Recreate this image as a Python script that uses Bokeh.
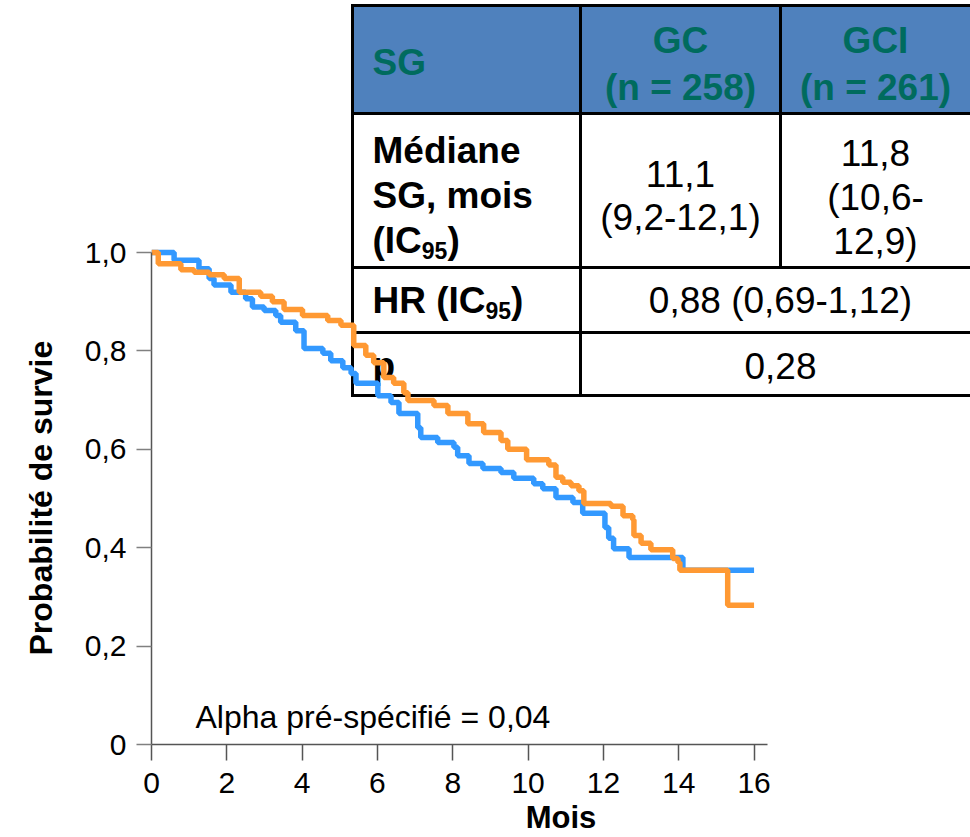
from bokeh.plotting import figure
from bokeh.models import Range1d, FixedTicker, Title
from bokeh.core.properties import value
from bokeh.embed import file_html
from bokeh.resources import INLINE

# ---------------- data ----------------
gc_times = [0, 0.60, 1.26, 1.53, 1.66, 2.11, 2.50, 2.68, 2.99, 3.30,
            3.43, 3.83, 4.05, 4.55, 4.76, 5.08, 5.30, 5.43, 6.01, 6.36,
            6.57, 7.07, 7.15, 7.60, 8.03, 8.13, 8.43, 8.80, 9.28, 9.62,
            10.15, 10.39, 10.74, 11.19, 11.45, 12.04, 12.14, 12.27, 12.68, 14.11,
            16.0]
gc_surv = [1.0, 0.984, 0.967, 0.947, 0.934, 0.919, 0.906, 0.889, 0.882, 0.872,
           0.858, 0.841, 0.805, 0.795, 0.780, 0.766, 0.754, 0.734, 0.709, 0.695,
           0.673, 0.644, 0.624, 0.614, 0.604, 0.587, 0.571, 0.561, 0.553, 0.541,
           0.530, 0.520, 0.502, 0.492, 0.470, 0.441, 0.419, 0.398, 0.380, 0.354,
           0.354]

gci_times = [0, 0.18, 0.78, 1.13, 1.53, 1.93, 2.33, 2.90, 3.21, 3.52,
             4.01, 4.68, 5.03, 5.37, 5.69, 5.90, 6.17, 6.43, 6.70, 6.81,
             7.50, 7.87, 8.40, 8.82, 9.28, 9.46, 9.96, 10.55, 10.74, 10.92,
             11.14, 11.35, 11.48, 12.20, 12.52, 12.78, 12.81, 13.00, 13.26, 13.84,
             13.98, 14.03, 15.30, 16.0]
gci_surv = [1.0, 0.977, 0.965, 0.960, 0.955, 0.947, 0.919, 0.911, 0.900, 0.884,
            0.872, 0.862, 0.852, 0.811, 0.791, 0.776, 0.746, 0.734, 0.715, 0.699,
            0.689, 0.673, 0.652, 0.634, 0.618, 0.600, 0.579, 0.568, 0.543, 0.533,
            0.526, 0.516, 0.490, 0.484, 0.465, 0.457, 0.425, 0.409, 0.396, 0.378,
            0.370, 0.354, 0.283, 0.283]

x_ticks = [0, 2, 4, 6, 8, 10, 12, 14, 16]
x_tick_labels = ["0", "2", "4", "6", "8", "10", "12", "14", "16"]
y_ticks = [0, 0.2, 0.4, 0.6, 0.8, 1.0]
y_tick_labels = ["0", "0,2", "0,4", "0,6", "0,8", "1,0"]

x_title = "Mois"
y_title = "Probabilité de survie"
note = "Alpha pré-spécifié = 0,04"

tbl_head = ["SG", "GC", "(n = 258)", "GCI", "(n = 261)"]
tbl_row1_label = ["Médiane", "SG, mois", "(IC", "95", ")"]
tbl_row1_gc = ["11,1", "(9,2-12,1)"]
tbl_row1_gci = ["11,8", "(10,6-", "12,9)"]
tbl_row2_label = ["HR (IC", "95", ")"]
tbl_row2_value = "0,88 (0,69-1,12)"
tbl_row3_label = "p"
tbl_row3_value = "0,28"

# ---------------- layout ----------------
W, H = 970, 837
FL, FB = 151, 744          # frame left / bottom in pixels
PX_X, PX_Y = 37.66, 492.0  # pixels per data unit
FONT = "Liberation Sans"
BLUE = "#3399FF"
ORANGE = "#FF9933"
TEAL = "#006B5E"
HEAD = "#4F81BD"

p = figure(width=W, height=H,
           x_range=Range1d(0, (W - FL) / PX_X),
           y_range=Range1d(0, FB / PX_Y),
           output_backend="svg", toolbar_location=None,
           min_border_left=FL, min_border_right=0,
           min_border_top=0, min_border_bottom=H - FB)
p.outline_line_color = None
p.xgrid.grid_line_color = None
p.ygrid.grid_line_color = None
p.background_fill_color = "white"
p.border_fill_color = "white"


def X(px):
    return (px - FL) / PX_X


def Y(py):
    return (FB - py) / PX_Y


# axes
xa = p.xaxis[0]
xa.ticker = FixedTicker(ticks=x_ticks)
xa.major_label_overrides = {t: l for t, l in zip(x_ticks, x_tick_labels)}
xa.bounds = (0, 16.37)
xa.axis_line_color = "#555555"
xa.axis_line_width = 1.5
xa.major_tick_line_color = "#555555"
xa.major_tick_line_width = 1.5
xa.major_tick_out = 16
xa.major_tick_in = 0
xa.minor_tick_line_color = None
xa.major_label_text_font = FONT
xa.major_label_text_font_size = "30px"
xa.major_label_text_color = "black"
xa.major_label_standoff = 12
xa.axis_label = x_title
xa.axis_label_text_font = FONT
xa.axis_label_text_font_size = "31px"
xa.axis_label_text_font_style = "bold"
xa.axis_label_text_color = "black"
xa.axis_label_standoff = 4

ya = p.yaxis[0]
ya.ticker = FixedTicker(ticks=y_ticks)
ya.major_label_overrides = {t: l for t, l in zip(y_ticks, y_tick_labels)}
ya.bounds = (0, 1.0)
ya.axis_line_color = "#555555"
ya.axis_line_width = 1.5
ya.major_tick_line_color = "#808080"
ya.major_tick_line_width = 1.5
ya.major_tick_out = 15
ya.major_tick_in = 0
ya.minor_tick_line_color = None
ya.major_label_text_font = FONT
ya.major_label_text_font_size = "30px"
ya.major_label_text_color = "black"
ya.major_label_standoff = 10

# y-axis title, placed along the 0..1 span of the axis
ytitle = Title(text=y_title, align="left", offset=89, vertical_align="top",
               text_font=FONT, text_font_size="32px", text_font_style="bold",
               text_color="black")
if "standoff" in Title.properties():
    ytitle.standoff = 41
p.add_layout(ytitle, "left")


def put(px, py, s, size=37, bold=False, color="black", align="left"):
    p.text(x=[X(px)], y=[Y(py)], text=[s],
           text_font=value(FONT), text_font_size=value(f"{size}px"),
           text_font_style="bold" if bold else "normal",
           text_color=color, text_align=align, text_baseline="middle")


# ---------------- table ----------------
TL, TR, TT = 352, 978, 5
r1, r2, r3, TB = 113, 267, 332, 395
C1, C2 = 580, 780
p.quad(left=[X(TL)], right=[X(TR)], top=[Y(TT)], bottom=[Y(r1)],
       fill_color=HEAD, line_color=None)
p.quad(left=[X(TL)], right=[X(TR)], top=[Y(r1)], bottom=[Y(TB)],
       fill_color="white", line_color=None)
hy = [TT, r1, r2, r3, TB]
p.segment(x0=[X(TL)] * 5, x1=[X(TR)] * 5, y0=[Y(v) for v in hy], y1=[Y(v) for v in hy],
          line_color="black", line_width=3)
p.segment(x0=[X(TL), X(C1), X(C2)], x1=[X(TL), X(C1), X(C2)],
          y0=[Y(TT - 1.5), Y(TT - 1.5), Y(TT - 1.5)], y1=[Y(TB + 1.5), Y(TB + 1.5), Y(r2)],
          line_color="black", line_width=3)

F = 37
put(372, 62, tbl_head[0], F, True, TEAL)
put(680, 40, tbl_head[1], F, True, TEAL, "center")
put(680, 87, tbl_head[2], F, True, TEAL, "center")
put(875, 40, tbl_head[3], F, True, TEAL, "center")
put(875, 87, tbl_head[4], F, True, TEAL, "center")

put(372, 150, tbl_row1_label[0], F, True)
put(372, 195, tbl_row1_label[1], F, True)
put(372, 240, tbl_row1_label[2], F, True)
sub = 23
w1 = 1.333 * F
put(372 + w1, 250, tbl_row1_label[3], sub, True)
put(372 + w1 + 1.112 * sub, 240, tbl_row1_label[4], F, True)

put(680, 173, tbl_row1_gc[0], F, False, "black", "center")
put(680, 217, tbl_row1_gc[1], F, False, "black", "center")
put(875, 152, tbl_row1_gci[0], F, False, "black", "center")
put(875, 197, tbl_row1_gci[1], F, False, "black", "center")
put(875, 241, tbl_row1_gci[2], F, False, "black", "center")

put(372, 300, tbl_row2_label[0], F, True)
w2 = 3.055 * F
put(372 + w2, 310, tbl_row2_label[1], sub, True)
put(372 + w2 + 1.112 * sub, 300, tbl_row2_label[2], F, True)
put(780, 300, tbl_row2_value, F, False, "black", "center")

put(372, 365, tbl_row3_label, F, True)
put(780, 365, tbl_row3_value, F, False, "black", "center")

# ---------------- curves ----------------
p.step(gc_times, gc_surv, mode="after", line_color=BLUE, line_width=5.5)
p.step(gci_times, gci_surv, mode="after", line_color=ORANGE, line_width=5.5)

# note
p.text(x=[X(195)], y=[Y(716)], text=[note], text_font=value(FONT),
       text_font_size=value("32px"), text_color="black",
       text_align="left", text_baseline="middle")

open("out.html", "w").write(file_html(p, INLINE))
